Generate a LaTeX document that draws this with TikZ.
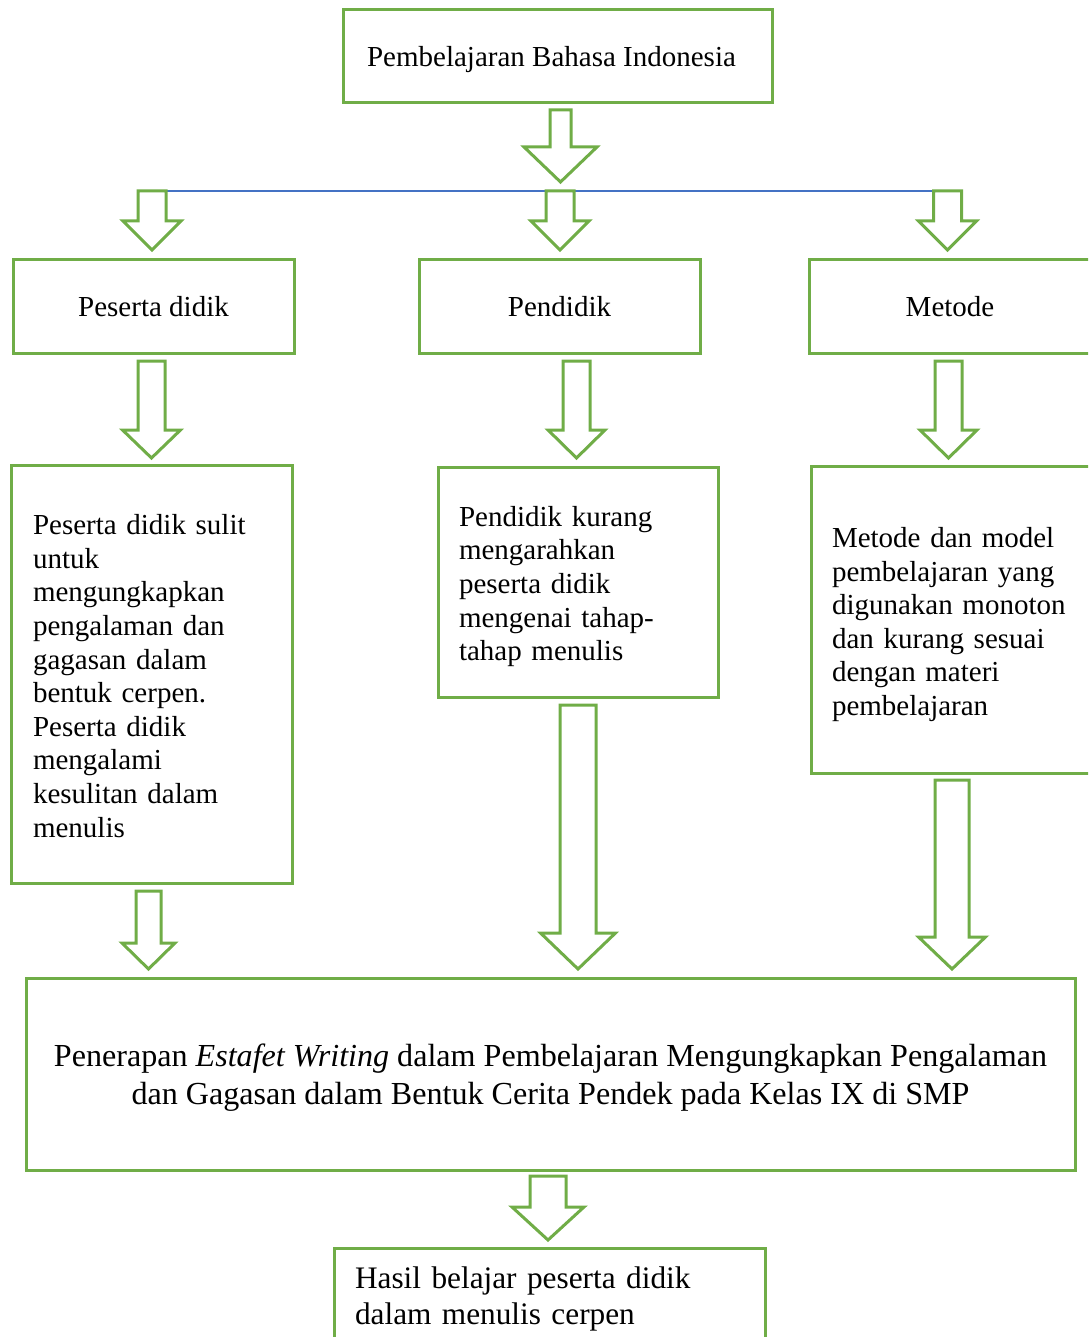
\documentclass[tikz,border=0pt]{standalone}
\usepackage{fontspec}
\setmainfont{Liberation Serif}
\definecolor{gr}{RGB}{112,173,71}
\definecolor{bl}{RGB}{68,114,196}
\newcommand\fsz[2]{\fontsize{#1}{#2}\selectfont}
% block arrow: {cx}{y top}{y head}{y tip}{shaft width}{head width}
\newcommand\blockarrow[6]{%
  \draw[barrow] ({#1-#5/2},#2) -- ({#1+#5/2},#2) -- ({#1+#5/2},#3) -- ({#1+#6/2},#3)
    -- (#1,#4) -- ({#1-#6/2},#3) -- ({#1-#5/2},#3) -- cycle;}
\begin{document}
\begin{tikzpicture}[x=1pt,y=-1pt,
  box/.style={draw=gr,line width=3pt,inner sep=0pt},
  txt/.style={inner sep=0pt,text=black},
  body/.style={font=\fsz{29}{33.6}},
  barrow/.style={draw=gr,line width=3pt,line join=miter,fill=white},
  bar/.style={draw=bl,line width=1.5pt}]
\useasboundingbox (0,0) rectangle (1088,1337);
\clip (0,0) rectangle (1088,1337);

% top box
\node[box,minimum width=429pt,minimum height=93pt] (top) at (557.5,56.5) {};
\node[txt,body] (topt) at ([xshift=-6pt,yshift=-3pt]top.center) {Pembelajaran Bahasa Indonesia};

% big arrow and horizontal bar
\blockarrow{560.5}{110}{147}{182}{21}{73}
\coordinate (barL) at (166,191);
\coordinate (barR) at (933,191);
\draw[bar] (barL) -- (barR);
\blockarrow{152}{191}{221}{250}{28}{58}
\blockarrow{560}{191}{221}{250}{28}{58}
\blockarrow{947.5}{191}{221}{250}{28}{58}

% second row
\node[box,minimum width=281pt,minimum height=93pt] (ps) at (153.5,306.5) {};
\node[box,minimum width=281pt,minimum height=93pt] (pd) at (559.5,306.5) {};
\node[box,minimum width=282pt,minimum height=93pt] (mt) at (950,306.5) {};
\node[txt,body] (pst) at (ps.center) {Peserta didik};
\node[txt,body] (pdt) at (pd.center) {Pendidik};
\node[txt,body] (mtt) at (mt.center) {Metode};

\blockarrow{151.5}{361}{430}{458}{27}{58}
\blockarrow{576.5}{361}{430}{458}{27}{57}
\blockarrow{948.5}{361}{430}{458}{27}{57}

% third row
\node[box,minimum width=281pt,minimum height=418pt] (psx) at (151.5,674) {};
\node[box,minimum width=280pt,minimum height=230pt] (pdx) at (578,582) {};
\node[box,minimum width=291pt,minimum height=307pt] (mtx) at (956.5,619.5) {};
\node[txt,body,text width=237pt,align=left] (psxt) at ([yshift=-2pt]psx.center)
  {Peserta didik sulit\\untuk\\mengungkapkan\\pengalaman dan\\gagasan dalam\\bentuk cerpen.\\Peserta didik\\mengalami\\kesulitan dalam\\menulis};
\node[txt,body,text width=238pt,align=left] (pdxt) at ([yshift=-4.5pt]pdx.center)
  {Pendidik kurang\\mengarahkan\\peserta didik\\mengenai tahap-\\tahap menulis};
\node[txt,body,text width=249pt,align=left] (mtxt) at ([yshift=-5pt]mtx.center)
  {Metode dan model\\pembelajaran yang\\digunakan monoton\\dan kurang sesuai\\dengan materi\\pembelajaran};

\blockarrow{148.5}{891}{943}{969}{25}{53}
\blockarrow{578}{705}{933}{969}{36}{75}
\blockarrow{952}{780}{937}{969}{34}{67}

% bottom box
\node[box,minimum width=1049pt,minimum height=192pt] (app) at (550.5,1074) {};
\node[txt,font=\fsz{32.1}{38},align=center] (appt) at ([yshift=-4pt]app.center)
  {Penerapan \textit{Estafet Writing} dalam Pembelajaran Mengungkapkan Pengalaman\\dan Gagasan dalam Bentuk Cerita Pendek pada Kelas IX di SMP};

\blockarrow{548}{1176}{1207}{1240}{36}{72}

\node[box,minimum width=431pt,minimum height=96pt] (res) at (549.5,1296) {};
\node[txt,font=\fsz{31.3}{36},text width=389pt,align=left] (rest) at ([yshift=-3pt]res.center)
  {Hasil belajar peserta didik\\dalam menulis cerpen};
\end{tikzpicture}
\end{document}
